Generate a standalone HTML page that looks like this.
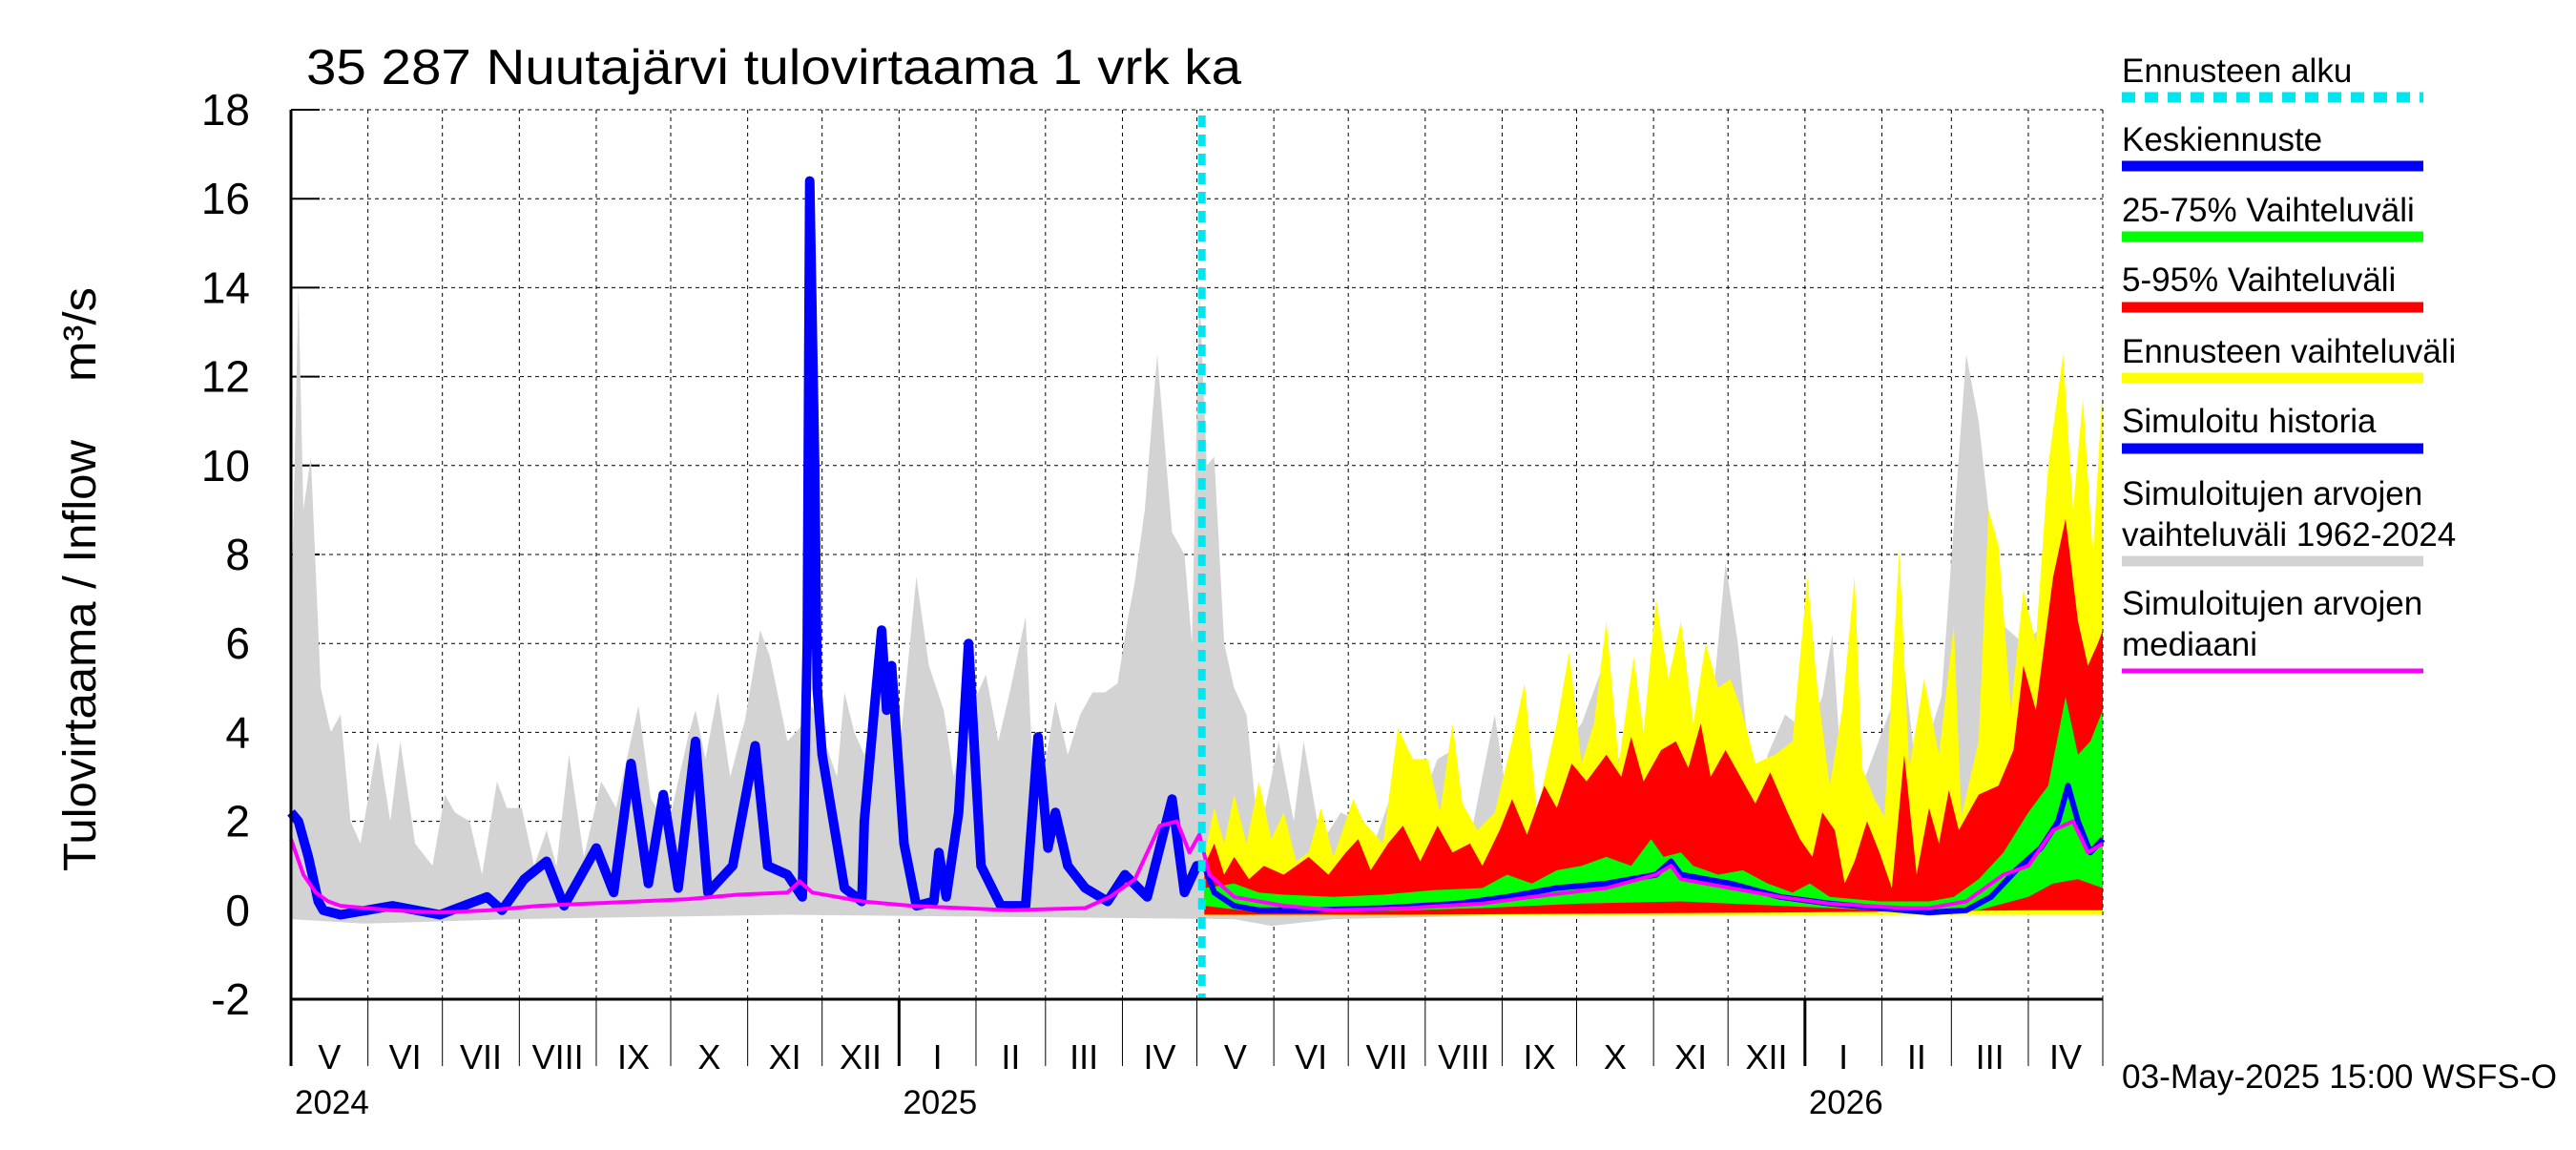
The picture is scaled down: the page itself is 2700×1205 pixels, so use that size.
<!DOCTYPE html>
<html><head><meta charset="utf-8"><style>
body{margin:0;background:#fff;}
svg text{font-family:"Liberation Sans",sans-serif;}
</style></head><body>
<svg id="c" width="2700" height="1200" xmlns="http://www.w3.org/2000/svg">
<rect width="2700" height="1200" fill="#fff"/>
<g id="plot"></g>
<text x="321" y="88" font-size="52" textLength="980" lengthAdjust="spacingAndGlyphs">35 287 Nuutajärvi tulovirtaama 1 vrk ka</text>
<text transform="translate(100,913) rotate(-90)" font-size="48" textLength="452" lengthAdjust="spacingAndGlyphs">Tulovirtaama / Inflow</text>
<text transform="translate(100,400) rotate(-90)" font-size="48" textLength="99" lengthAdjust="spacingAndGlyphs">m³/s</text>
<text x="2224" y="1140" font-size="35" textLength="456" lengthAdjust="spacingAndGlyphs">03-May-2025 15:00 WSFS-O</text>
<g id="legend"></g>
</svg>
<script>
const yTicks=[-2,0,2,4,6,8,10,12,14,16,18];
const monthLabels=["V","VI","VII","VIII","IX","X","XI","XII","I","II","III","IV","V","VI","VII","VIII","IX","X","XI","XII","I","II","III","IV"];
const monthStarts=[0,31,61,92,123,153,184,214,245,276,304,335,365,396,426,457,488,518,549,579,610,641,669,700,730];
const yearLabels=["2024","2025","2026"];
const yearDays=[0,245,610];
const forecastStartDay=367;
const greyMaxDays=[0,3,5,8,12,16,20,24,28,35,40,44,50,57,62,66,72,77,83,87,93,98,103,107,112,118,125,131,140,145,152,160,163,167,172,177,183,189,193,200,205,210,220,223,227,231,240,245,252,257,263,267,272,280,285,290,296,299,303,308,313,318,323,328,333,337,340,344,349,355,360,363,366,369,372,376,380,385,390,398,404,408,415,423,430,437,444,450,455,462,468,473,480,485,490,496,502,510,520,528,535,541,545,553,563,570,578,583,590,595,602,611,617,621,626,635,645,650,655,665,675,680,685,690,692,698,702,704,730];
const greyMaxVals=[6.2,14,9,10.2,5,4,4.4,2,1.5,3.8,2,3.8,1.5,1,2.6,2.2,2.0,0.8,2.9,2.3,2.3,1,1.8,1,3.5,1.2,2.9,2.3,4.6,2.5,1.9,3.9,4.5,3.4,4.9,3,4.3,6.3,5.7,3.8,4.1,4.6,3,4.9,4.0,3.5,5.8,3.5,7.5,5.5,4.5,3.0,4.3,5.3,3.8,5.0,6.6,3.0,3.0,4.7,3.5,4.4,4.9,4.9,5.1,6.5,7.4,9,12.5,8.5,8,6,14,10,10.2,6,5,4.4,1.6,3.8,2,3.8,1.5,2.2,2,1.6,2.7,2.2,2.4,3.4,3.6,1,3,4.4,2.5,3.0,2.2,3.5,4.2,5.4,3.4,4.1,2.8,5.0,4.3,3,7.8,6,2,3.5,4.4,4.0,4.8,6.2,2,3.1,4.6,5.5,3,4.8,12.5,11,8.5,6.4,6.3,6.0,6.2,6.3,5.9];
const greyMinDays=[0,30,90,200,380,395,420,500,600,730];
const greyMinVals=[-0.2,-0.3,-0.2,-0.1,-0.2,-0.35,-0.2,-0.1,-0.1,-0.1];
const histDays=[0,3,7,11,13,20,41,60,79,85,94,103,110,123,130,137,144,150,156,163,168,178,187,192,200,206,208,209,211,212,214,223,230,231,235,238,240,242,247,252,259,261,264,269,273,278,286,296,301,305,308,313,320,329,336,345,355,360,365,367];
const histVals=[2.2,2.0,1.2,0.2,0,-0.1,0.1,-0.1,0.3,0.0,0.7,1.1,0.1,1.4,0.4,3.3,0.6,2.6,0.5,3.8,0.4,1.0,3.7,1.0,0.8,0.3,6,16.4,10,5,3.5,0.5,0.2,2,4.5,6.3,4.5,5.5,1.5,0.1,0.2,1.3,0.3,2.2,6.0,1.0,0.1,0.1,3.9,1.4,2.2,1.0,0.5,0.2,0.8,0.3,2.5,0.4,1.0,1.0];
const medDays=[0,5,10,15,20,40,60,80,100,120,140,160,180,200,205,210,230,250,270,290,320,330,340,350,357,362,366,370,380,400,420,450,480,500,530,550,556,560,580,600,620,650,660,675,690,700,710,718,724,730];
const medVals=[1.6,0.8,0.4,0.2,0.1,0.0,-0.05,0,0.1,0.15,0.2,0.25,0.35,0.4,0.65,0.4,0.2,0.1,0.05,0.0,0.05,0.3,0.7,1.9,2.0,1.3,1.7,0.8,0.3,0.1,0,0.05,0.15,0.3,0.5,0.8,1,0.7,0.5,0.3,0.15,0.05,0.05,0.2,0.8,1.0,1.8,2.0,1.3,1.5];
const yelDays=[368,372,376,380,385,390,395,400,405,410,415,420,428,432,440,446,452,458,463,468,472,478,485,492,497,502,510,515,520,525,530,535,541,545,550,555,560,565,570,575,580,585,590,598,605,611,615,620,625,630,633,638,642,648,652,658,664,670,673,680,684,688,693,698,703,708,714,718,722,726,730];
const yelVals=[1.2,2.3,1.5,2.6,1.5,2.9,1.6,2.2,1.1,1.3,2.3,1.2,2.5,2.0,1.5,4.1,3.4,3.4,2.2,4.2,2.4,1.8,2.2,3.8,5.1,2.2,4.2,5.8,3.3,4.2,6.5,3.3,5.7,4.0,7.0,5.2,6.5,4.2,6.0,5.0,5.2,4.4,3.3,3.5,3.8,7.5,5.0,2.8,4.5,7.5,3.2,2.5,2.1,8.1,3.2,5.2,3.5,6.4,2.1,3.8,9.0,8.2,4.5,7.2,6.0,10,12.5,9,11.5,8,11.8];
const redDays=[368,372,376,380,386,392,400,410,418,425,430,435,442,448,455,462,468,475,480,487,492,498,505,510,516,522,530,536,540,545,552,558,563,568,572,578,584,590,596,603,608,613,617,622,626,630,635,640,645,650,655,660,664,668,672,680,688,694,698,703,710,715,720,724,728,730];
const redVals=[1.0,1.5,0.8,1.2,0.7,1.0,0.8,1.2,0.8,1.3,1.6,0.9,1.5,1.9,1.1,1.9,1.3,1.5,1.0,1.8,2.5,1.7,2.8,2.3,3.3,2.9,3.5,3.0,3.9,2.9,3.6,3.8,3.2,4.2,3.0,3.6,3.0,2.4,3.1,2.2,1.6,1.2,2.2,1.8,0.6,1.1,2.0,1.3,0.5,3.5,0.8,2.3,1.5,2.7,1.8,2.6,2.8,3.6,5.5,4.5,7.5,8.8,6.5,5.5,6.0,6.3];
const grnDays=[368,380,390,400,420,440,460,480,490,500,510,520,530,540,548,553,560,565,575,585,595,605,612,620,640,660,670,680,690,700,708,715,720,725,730];
const grnVals=[0.5,0.6,0.4,0.35,0.3,0.35,0.45,0.5,0.8,0.6,0.9,1.0,1.2,1.0,1.6,1.2,1.3,1.0,0.8,0.9,0.6,0.4,0.6,0.3,0.2,0.2,0.3,0.7,1.3,2.2,2.8,4.8,3.5,3.8,4.5];
const meanDays=[368,372,380,390,410,440,470,490,510,530,550,556,560,580,600,620,640,660,675,685,695,705,712,716,720,725,730];
const meanVals=[1.0,0.4,0.1,0.0,0.0,0.05,0.15,0.3,0.5,0.6,0.8,1.1,0.8,0.6,0.3,0.15,0.05,-0.05,0.0,0.3,0.9,1.4,2.0,2.8,2.0,1.3,1.6];
const grnLoDays=[368,390,440,480,520,560,600,640,680,700,710,720,730];
const grnLoVals=[0.1,-0.05,-0.02,0.05,0.15,0.2,0.1,0.0,0.0,0.3,0.6,0.7,0.5];
const redLoDays=[368,450,600,700,730];
const redLoVals=[-0.1,-0.1,-0.05,0.0,0.0];
const yelLoDays=[368,730];
const yelLoVals=[-0.12,-0.1];

const X0=305,X1=2204,Y0=115,Y1=1047,DMAX=730;
const xs=d=>X0+(X1-X0)*d/DMAX;
const ys=v=>Y1-(v-(-2))*(Y1-Y0)/20;
const NS="http://www.w3.org/2000/svg";
const plot=document.getElementById('plot');
function mk(tag,attrs,parent){const e=document.createElementNS(NS,tag);for(const k in attrs)e.setAttribute(k,attrs[k]);(parent||plot).appendChild(e);return e;}
function interp(ds,vs,d){if(d<=ds[0])return vs[0];for(let i=1;i<ds.length;i++){if(d<=ds[i]){const t=(d-ds[i-1])/(ds[i]-ds[i-1]);return vs[i-1]+t*(vs[i]-vs[i-1]);}}return vs[vs.length-1];}
function band(uD,uV,lD,lV,d0,d1){let p=[];let days=[...new Set([d0,...uD.filter(d=>d>=d0&&d<=d1),d1])].sort((a,b)=>a-b);days.forEach(d=>p.push(xs(d).toFixed(1)+','+ys(interp(uD,uV,d)).toFixed(1)));let ld=[...new Set([d0,...lD.filter(d=>d>=d0&&d<=d1),d1])].sort((a,b)=>b-a);ld.forEach(d=>p.push(xs(d).toFixed(1)+','+ys(interp(lD,lV,d)).toFixed(1)));return p.join(' ');}
function line(ds,vs){return ds.map((d,i)=>xs(d).toFixed(1)+','+ys(vs[i]).toFixed(1)).join(' ');}

yTicks.forEach(v=>{
 if(v>-2){const g=mk('line',{x1:X0,x2:X1,y1:ys(v),y2:ys(v),stroke:'#000','stroke-width':1,'stroke-dasharray':'4,4'});
 
 }
 const t=mk('line',{x1:X0,x2:X0+30,y1:ys(v),y2:ys(v),stroke:'#000','stroke-width':2});
 
 
 const l=mk('text',{x:262,y:ys(v)+16,'text-anchor':'end','font-size':46});l.textContent=v;
 
 
});
monthStarts.forEach((d,i)=>{
 const g=mk('line',{x1:xs(d),x2:xs(d),y1:Y0,y2:Y1,stroke:'#000','stroke-width':1,'stroke-dasharray':'4,4'});
 
 
 const t=mk('line',{x1:xs(d),x2:xs(d),y1:Y1,y2:1117,stroke:'#000','stroke-width':1});
 
 
 if(i<monthLabels.length){const l=mk('text',{x:(xs(d)+xs(monthStarts[i+1]))/2,y:1120,'text-anchor':'middle','font-size':36});l.textContent=monthLabels[i];
 
 }
});
yearDays.forEach((d,i)=>{
 if(d>0){const t=mk('line',{x1:xs(d),x2:xs(d),y1:Y1,y2:1117,stroke:'#000','stroke-width':3});
 
 }
 const l=mk('text',{x:xs(d)+4,y:1167,'font-size':35});l.textContent=yearLabels[i];
 
 
});
let e;
e=mk('polygon',{points:band(greyMaxDays,greyMaxVals,greyMinDays,greyMinVals,0,730),fill:'#d3d3d3'});


e=mk('polygon',{points:band(yelDays,yelVals,yelLoDays,yelLoVals,368,730),fill:'#ffff00'});


e=mk('polygon',{points:band(redDays,redVals,redLoDays,redLoVals,368,730),fill:'#ff0000'});


e=mk('polygon',{points:band(grnDays,grnVals,grnLoDays,grnLoVals,368,730),fill:'#00ff00'});


e=mk('polyline',{points:line(histDays,histVals),fill:'none',stroke:'#0000ff','stroke-width':10,'stroke-linejoin':'round'});


e=mk('polyline',{points:line(meanDays,meanVals),fill:'none',stroke:'#0000ff','stroke-width':6,'stroke-linejoin':'round'});


e=mk('polyline',{points:line(medDays,medVals),fill:'none',stroke:'#ff00ff','stroke-width':4,'stroke-linejoin':'round'});


e=mk('line',{x1:xs(forecastStartDay),x2:xs(forecastStartDay),y1:Y0+6,y2:Y1,stroke:'#00e5ee','stroke-width':8,'stroke-dasharray':'12,8'});


mk('line',{x1:X0,x2:X1,y1:Y0,y2:Y0,stroke:'#000','stroke-width':1,'stroke-dasharray':'4,4'});
mk('line',{x1:X1,x2:X1,y1:Y0,y2:Y1,stroke:'#000','stroke-width':1,'stroke-dasharray':'4,4'});
e=mk('line',{x1:X0,x2:X0,y1:Y0,y2:1117,stroke:'#000','stroke-width':3});


e=mk('line',{x1:X0,x2:X1,y1:Y1,y2:Y1,stroke:'#000','stroke-width':3});


const lg=document.getElementById('legend');
const items=[
 [["Ennusteen alku"],74,102,'#00e5ee',true],
 [["Keskiennuste"],146,174,'#0000ff'],
 [["25-75% Vaihteluväli"],220,248,'#00ff00'],
 [["5-95% Vaihteluväli"],293,322,'#ff0000'],
 [["Ennusteen vaihteluväli"],368,396,'#ffff00'],
 [["Simuloitu historia"],441,470,'#0000ff'],
 [["Simuloitujen arvojen","vaihteluväli 1962-2024"],517,588,'#d3d3d3'],
 [["Simuloitujen arvojen","mediaani"],632,703,'#ff00ff']];
items.forEach(it=>{
 it[0].forEach((s,j)=>{const t=mk('text',{x:2224,y:it[1]+12+j*43,'font-size':35},lg);t.textContent=s;
 
 });
 const attrs={x1:2224,x2:2540,y1:it[2],y2:it[2],stroke:it[3],'stroke-width':it[3]=='#ff00ff'?5:11};
 if(it[4])attrs['stroke-dasharray']='14,10';
 const l=mk('line',attrs,lg);
 
 
});
</script>
</body></html>
